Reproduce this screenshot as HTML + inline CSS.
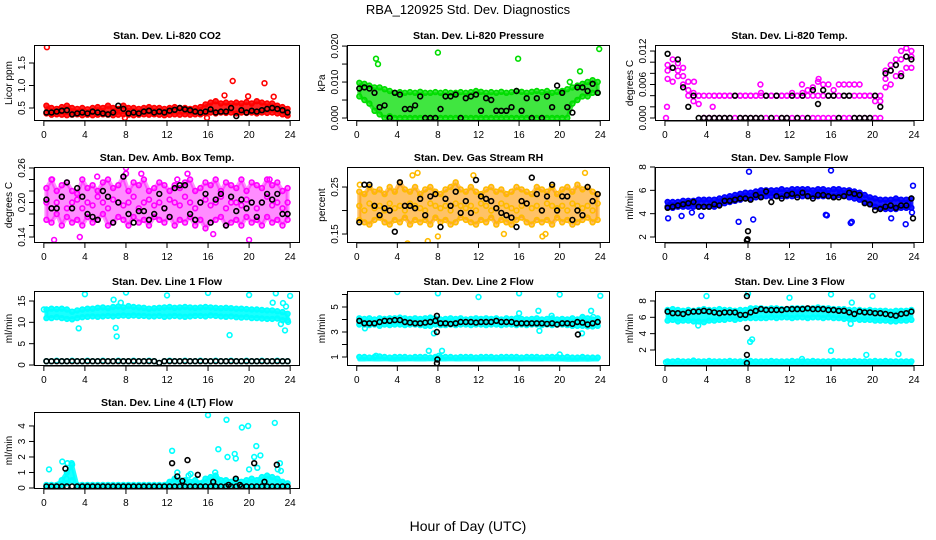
<!DOCTYPE html>
<html><head><meta charset="utf-8"><style>
html,body{margin:0;padding:0;background:#fff;}
svg{display:block;font-family:"Liberation Sans",Arial,sans-serif;}
</style></head><body>
<svg id="chart" width="936" height="540" viewBox="0 0 936 540">
<text x="468" y="14" text-anchor="middle" font-size="13">RBA_120925  Std. Dev. Diagnostics</text>
<text x="468" y="531" text-anchor="middle" font-size="14">Hour of Day (UTC)</text>
</svg>
<script>
const hours=[0.25,0.75,1.25,1.75,2.25,2.75,3.25,3.75,4.25,4.75,5.25,5.75,6.25,6.75,7.25,7.75,8.25,8.75,9.25,9.75,10.25,10.75,11.25,11.75,12.25,12.75,13.25,13.75,14.25,14.75,15.25,15.75,16.25,16.75,17.25,17.75,18.25,18.75,19.25,19.75,20.25,20.75,21.25,21.75,22.25,22.75,23.25,23.75];
const xTicks=[0,4,8,12,16,20,24];
// P1 CO2
const co2Hi=[0.55,0.5,0.48,0.52,0.55,0.5,0.48,0.5,0.47,0.5,0.52,0.5,0.55,0.5,0.48,0.55,0.5,0.5,0.48,0.5,0.52,0.5,0.5,0.48,0.5,0.52,0.5,0.5,0.48,0.5,0.52,0.58,0.62,0.65,0.6,0.62,0.6,0.62,0.6,0.63,0.6,0.65,0.62,0.6,0.6,0.55,0.52,0.48];
const co2Lo=[0.38,0.35,0.36,0.35,0.34,0.35,0.36,0.34,0.35,0.34,0.35,0.36,0.35,0.34,0.35,0.36,0.35,0.34,0.35,0.36,0.35,0.36,0.35,0.34,0.35,0.36,0.35,0.36,0.35,0.36,0.36,0.38,0.4,0.38,0.4,0.39,0.4,0.38,0.4,0.39,0.4,0.38,0.4,0.39,0.4,0.38,0.36,0.33];
const co2Blk=[0.4,0.4,0.42,0.44,0.45,0.36,0.38,0.4,0.38,0.42,0.4,0.38,0.36,0.4,0.55,0.48,0.38,0.4,0.38,0.42,0.44,0.4,0.42,0.4,0.44,0.46,0.5,0.47,0.45,0.42,0.4,0.42,0.47,0.4,0.42,0.42,0.5,0.32,0.45,0.4,0.44,0.42,0.45,0.48,0.5,0.48,0.45,0.4];
const co2OutH=[0.3,17.6,18.4,19.9,21.5,22.4,15.9,7.9];
const co2OutV=[1.85,0.78,1.1,0.76,1.05,0.75,0.28,0.28];
const co2Ticks=[0.5,1.0,1.5];
const co2Labels=["0.5","1.0","1.5"];
// P2 Pressure
const presHi=[0.0098,0.0095,0.009,0.0085,0.0085,0.008,0.0075,0.007,0.0072,0.007,0.0072,0.007,0.0073,0.007,0.007,0.0072,0.007,0.0072,0.007,0.007,0.0072,0.007,0.0072,0.0075,0.0073,0.007,0.0072,0.007,0.0073,0.007,0.0072,0.0075,0.0073,0.007,0.0073,0.0075,0.0072,0.0075,0.007,0.0073,0.0075,0.008,0.0085,0.009,0.0095,0.01,0.0105,0.01];
const presLo=[0.006,0.005,0.004,0.002,0.001,0.0,0.0005,0.0,0.0,0.0,0.0,0.0,0.0,0.0,0.0,0.0,0.0,0.0,0.0,0.0,0.0,0.0,0.0,0.0,0.0,0.0,0.0,0.0,0.0,0.0,0.0,0.0,0.0,0.0,0.0,0.0,0.0,0.0,0.0,0.0,0.0,0.0,0.004,0.005,0.006,0.006,0.007,0.007];
const presBlk=[0.0082,0.0085,0.0082,0.007,0.003,0.0035,0.0,0.007,0.0065,0.0025,0.0025,0.0035,0.006,0.0,0.0,0.0,0.0025,0.006,0.006,0.0065,0.0,0.0055,0.006,0.0065,0.002,0.0055,0.005,0.002,0.002,0.002,0.003,0.0075,0.002,0.0055,0.0,0.0055,0.0,0.006,0.003,0.009,0.007,0.003,0.0015,0.0085,0.0085,0.0075,0.0095,0.007];
const presOutH=[1.9,2.1,8,15.9,22,23.9,21];
const presOutV=[0.0165,0.015,0.0182,0.0165,0.013,0.0192,0.01];
const presTicks=[0,0.005,0.01,0.015,0.02];
const presLabels=["0.000","","0.010","","0.020"];
// P3 Temp
const tHi=[0.0095,0.0105,0.0098,0.009,0.0065,0.0045,0.004,0.004,0.004,0.004,0.004,0.004,0.004,0.004,0.004,0.004,0.004,0.004,0.0045,0.004,0.004,0.004,0.004,0.004,0.0045,0.004,0.0045,0.005,0.0055,0.0065,0.006,0.006,0.005,0.006,0.006,0.006,0.006,0.006,0.004,0.004,0.004,0.004,0.0085,0.0095,0.0105,0.012,0.0125,0.012];
const tMid=[0.0085,0.009,0.0085,0.0075,0.005,0.004,0.004,0.0,0.0,0.004,0.004,0.004,0.004,0.004,0.004,0.004,0.004,0.004,0.004,0.004,0.004,0.004,0.004,0.004,0.004,0.004,0.004,0.004,0.004,0.004,0.004,0.004,0.004,0.004,0.004,0.004,0.004,0.004,0.004,0.004,0.003,0.003,0.007,0.0085,0.0095,0.0105,0.011,0.011];
const tLo=[0.007,0.0065,0.0075,0.006,0.004,0.003,0.0025,0.0,0.0,0.0,0.0,0.0,0.0,0.0,0.0,0.0,0.0,0.0,0.0,0.0,0.0,0.0,0.0,0.0,0.0,0.0,0.0,0.0,0.0,0.0,0.0,0.0,0.0,0.0,0.0,0.0,0.0,0.0,0.0,0.0,0.0,0.0,0.0055,0.006,0.0075,0.008,0.009,0.009];
const tBlk=[0.0115,0.009,0.0105,0.0055,0.002,0.004,0.0,0.0,0.0,0.0,0.0,0.0,0.0,0.004,0.0,0.0,0.0,0.0,0.0,0.004,0.0,0.004,0.0,0.0,0.004,0.0,0.004,0.0,0.005,0.0025,0.005,0.004,0.004,0.0,0.004,0.004,0.0,0.0,0.0,0.0,0.004,0.002,0.008,0.0085,0.0095,0.0075,0.011,0.0105];
const tOutH=[0.1,0.2,4.6,9.2,2.8,14.8,13.2];
const tOutV=[0.0,0.002,0.002,0.006,0.0065,0.007,0.006];
const tTicks=[0,0.002,0.004,0.006,0.008,0.01,0.012];
const tLabels=["0.000","","","0.006","","","0.012"];
// P4 Amb box
const ambA=[0.225,0.24,0.22,0.23,0.235,0.22,0.215,0.24,0.225,0.23,0.22,0.235,0.24,0.225,0.23,0.245,0.22,0.235,0.23,0.24,0.22,0.225,0.235,0.23,0.22,0.23,0.225,0.235,0.24,0.22,0.225,0.235,0.23,0.24,0.22,0.235,0.23,0.225,0.24,0.22,0.235,0.23,0.225,0.24,0.23,0.235,0.22,0.225];
const ambB=[0.2,0.19,0.2,0.21,0.19,0.2,0.205,0.19,0.2,0.195,0.21,0.2,0.19,0.205,0.2,0.195,0.2,0.21,0.19,0.2,0.205,0.195,0.2,0.19,0.205,0.2,0.195,0.21,0.2,0.19,0.2,0.205,0.195,0.2,0.21,0.19,0.2,0.2,0.195,0.205,0.2,0.19,0.2,0.21,0.195,0.2,0.19,0.2];
const ambC=[0.17,0.165,0.18,0.16,0.175,0.165,0.17,0.16,0.175,0.165,0.17,0.18,0.16,0.165,0.175,0.17,0.16,0.175,0.165,0.17,0.16,0.175,0.17,0.165,0.175,0.16,0.17,0.165,0.175,0.16,0.17,0.155,0.165,0.17,0.175,0.16,0.165,0.17,0.16,0.175,0.165,0.17,0.16,0.175,0.165,0.17,0.16,0.17];
const ambBlk=[0.205,0.19,0.19,0.21,0.235,0.19,0.225,0.21,0.18,0.175,0.17,0.22,0.21,0.165,0.2,0.245,0.18,0.165,0.185,0.185,0.17,0.18,0.215,0.19,0.175,0.225,0.23,0.23,0.18,0.17,0.2,0.215,0.165,0.205,0.215,0.16,0.21,0.185,0.205,0.19,0.2,0.175,0.2,0.215,0.205,0.215,0.18,0.18];
const ambOutH=[1,3.5,8,8,13,14,16.5,20,22,0.8,5.2,9.5];
const ambOutV=[0.135,0.14,0.26,0.25,0.24,0.25,0.145,0.135,0.24,0.24,0.245,0.25];
const ambTicks=[0.14,0.16,0.18,0.2,0.22,0.24,0.26];
const ambLabels=["0.14","","","0.20","","","0.26"];
// P5 RH
const rhA=[0.24,0.235,0.25,0.24,0.245,0.235,0.25,0.24,0.26,0.245,0.24,0.25,0.235,0.245,0.25,0.24,0.235,0.245,0.25,0.26,0.245,0.24,0.25,0.24,0.235,0.245,0.25,0.24,0.245,0.235,0.24,0.25,0.245,0.24,0.235,0.25,0.245,0.24,0.25,0.235,0.245,0.25,0.24,0.255,0.245,0.25,0.24,0.235];
const rhB=[0.21,0.2,0.215,0.205,0.21,0.2,0.215,0.205,0.21,0.2,0.215,0.21,0.205,0.2,0.215,0.21,0.205,0.21,0.2,0.215,0.21,0.205,0.21,0.2,0.215,0.21,0.2,0.205,0.215,0.21,0.205,0.2,0.21,0.215,0.205,0.21,0.2,0.215,0.21,0.205,0.21,0.2,0.215,0.21,0.205,0.21,0.2,0.215];
const rhC=[0.18,0.175,0.17,0.18,0.185,0.175,0.17,0.18,0.175,0.185,0.17,0.18,0.175,0.18,0.17,0.185,0.175,0.18,0.17,0.175,0.185,0.18,0.175,0.17,0.18,0.175,0.185,0.17,0.18,0.175,0.17,0.18,0.185,0.175,0.17,0.18,0.175,0.18,0.17,0.185,0.175,0.18,0.17,0.175,0.18,0.185,0.175,0.18];
const rhBlk=[0.175,0.255,0.255,0.21,0.19,0.205,0.2,0.155,0.26,0.21,0.21,0.205,0.225,0.19,0.23,0.235,0.165,0.225,0.21,0.24,0.195,0.22,0.195,0.265,0.23,0.225,0.22,0.205,0.195,0.19,0.185,0.165,0.22,0.215,0.27,0.235,0.2,0.23,0.255,0.2,0.23,0.23,0.18,0.2,0.19,0.25,0.22,0.235];
const rhOutH=[5.5,6,8,7,18.3,18.6,11.5,5,14.5,0.3,22.5];
const rhOutV=[0.275,0.28,0.145,0.135,0.145,0.15,0.275,0.13,0.15,0.255,0.28];
const rhTicks=[0.15,0.2,0.25];
const rhLabels=["0.15","","0.25"];
// P6 Sample flow
const sfHi=[5.0,5.0,5.0,5.1,5.1,5.1,5.2,5.2,5.2,5.2,5.3,5.4,5.5,5.6,5.7,5.8,5.8,5.9,6.0,6.0,6.0,6.0,6.1,6.0,6.1,6.1,6.1,6.1,6.0,6.1,6.1,6.0,6.1,6.1,6.0,6.0,5.9,5.8,5.6,5.4,5.3,5.2,5.2,5.2,5.3,5.2,5.2,5.3];
const sfLo=[4.6,4.5,4.6,4.6,4.6,4.6,4.6,4.6,4.6,4.6,4.8,4.9,5.0,5.1,5.2,5.3,5.3,5.4,5.5,5.5,5.5,5.5,5.5,5.5,5.5,5.6,5.5,5.5,5.5,5.5,5.5,5.5,5.5,5.6,5.6,5.4,5.3,5.2,5.0,4.8,4.6,4.5,4.4,4.4,4.4,4.5,4.5,4.5];
const sfBlk=[4.5,4.6,4.7,4.8,4.9,5.0,4.6,4.6,4.6,4.8,4.7,5.1,5.1,5.2,5.3,5.3,5.2,5.6,5.4,5.9,5.0,5.5,5.3,5.6,5.7,5.4,5.8,5.5,5.3,5.6,5.6,5.5,5.4,5.4,5.5,5.8,5.7,5.6,4.9,4.8,4.3,4.4,4.6,4.7,4.5,4.7,4.7,5.3];
const sfOutH=[0.3,1.6,2.6,3.5,7.1,8.1,8.5,16,15.5,15.6,17.9,18,23.2,23.9,23.8,21.8];
const sfOutV=[3.6,3.8,4.1,3.8,3.3,7.6,3.5,7.7,3.9,3.85,3.2,3.3,3.1,6.4,4.1,3.6];
const sfBlkExH=[7.9,7.95,8.0,23.9];
const sfBlkExV=[1.7,1.8,2.5,3.6];
const sfTicks=[2,4,6,8];
const sfLabels=["2","4","6","8"];
// P7 Line 1
const l1Hi=[13,13.2,13.1,13.2,13,12.5,12.8,13,13.2,13.2,13.4,13.5,13.3,13.6,13.7,13.5,13.8,13.6,13.5,13.4,13.2,13.3,13.4,13.5,13.6,13.4,13.5,13.6,13.5,13.4,13.5,13.6,13.5,13.4,13.3,13.4,13.3,13.2,13.2,13.1,13,13,12.9,12.8,12.8,12.6,12.4,12.0];
const l1Lo=[11,11,11.2,11,10.8,10.7,11,11.2,11.3,11.4,11.3,11.4,11.5,11.4,11.5,11.6,11.5,11.6,11.5,11.5,11.4,11.4,11.5,11.3,11.4,11.5,11.4,11.3,11.4,11.5,11.5,11.4,11.6,11.5,11.4,11.3,11.4,11.2,11.1,11.2,11.0,11.0,10.9,10.8,10.8,10.9,10.5,10.5];
const l1Base=[0.9,0.9,1.0,0.9,0.9,1.0,0.9,0.9,1.0,0.9,0.9,1.0,0.9,0.9,1.0,0.9,0.9,1.0,0.9,0.9,1.0,0.9,0.5,0.9,1.0,0.9,0.9,1.0,0.9,0.9,1.0,0.9,0.9,1.0,0.9,0.9,1.0,0.9,0.9,1.0,0.9,0.9,1.0,0.9,0.9,1.0,0.9,0.9];
const l1Blk=[0.9,0.9,0.9,0.9,0.9,0.9,0.9,0.9,0.9,0.9,0.9,0.9,0.9,0.9,0.9,0.9,0.9,0.9,0.9,0.9,0.9,0.9,0.5,0.9,0.9,0.9,0.9,0.9,0.9,0.9,0.9,0.9,0.9,0.9,0.9,0.9,0.9,0.9,0.9,0.9,0.9,0.9,0.9,0.9,0.9,0.9,0.9,0.9];
const l1OutH=[0,3.4,4,7,7.1,6.8,7.5,8,12,16,18.1,20,22.3,22.6,23.1,23.3,23.5,23.6,23.8,24];
const l1OutV=[13,8.6,16.6,8.7,6.7,15.3,14.6,17,16.3,16.9,7,16.4,14.6,16.8,9.6,14.5,8.1,13.7,10.1,16.2];
const l1Ticks=[0,5,10,15];
const l1Labels=["0","5","10","15"];
// P8 Line 2
const l2Hi=[4.1,4.05,4.1,4.0,4.1,4.05,4.1,4.1,4.15,4.1,4.05,4.1,4.05,4.1,4.15,4.1,4.0,4.05,4.1,4.05,4.1,4.0,4.05,4.1,4.05,4.1,4.05,4.1,4.0,4.1,4.05,4.1,4.05,4.0,4.05,4.1,4.0,4.05,4.1,4.0,4.05,4.0,4.1,4.0,4.2,4.1,4.0,4.1];
const l2Lo=[3.6,3.6,3.55,3.6,3.5,3.6,3.55,3.6,3.6,3.55,3.6,3.6,3.55,3.5,3.5,3.6,3.55,3.55,3.6,3.55,3.6,3.6,3.55,3.6,3.6,3.55,3.6,3.6,3.55,3.6,3.6,3.55,3.6,3.55,3.6,3.6,3.55,3.6,3.55,3.6,3.6,3.55,3.5,3.5,3.5,3.45,3.45,3.5];
const l2BaseHi=[1.0,1.0,0.95,1.0,1.05,1.0,0.95,1.0,1.0,1.0,0.95,1.0,1.0,1.0,0.95,1.0,1.0,1.0,1.0,0.95,1.0,1.0,1.0,0.95,1.0,1.0,1.0,0.95,1.0,1.0,1.0,1.0,0.95,1.0,1.0,1.0,0.95,1.0,1.0,1.0,0.95,1.0,0.95,0.95,1.0,0.95,0.95,0.95];
const l2BaseLo=[0.8,0.8,0.82,0.8,0.8,0.82,0.8,0.78,0.8,0.8,0.82,0.8,0.8,0.8,0.82,0.8,0.8,0.8,0.82,0.8,0.8,0.82,0.8,0.8,0.8,0.82,0.8,0.8,0.8,0.82,0.8,0.8,0.8,0.82,0.8,0.8,0.8,0.82,0.8,0.8,0.8,0.78,0.78,0.78,0.8,0.78,0.8,0.8];
const l2Blk=[3.9,3.7,3.7,3.7,3.8,3.9,3.9,3.95,3.95,3.8,3.75,3.7,3.7,3.75,3.8,3.9,3.7,3.7,3.65,3.7,3.8,3.8,3.8,3.75,3.8,3.8,3.8,3.9,3.8,3.8,3.8,3.7,3.7,3.7,3.7,3.7,3.7,3.65,3.7,3.6,3.7,3.7,3.65,3.8,3.75,3.6,3.7,3.8];
const l2OutH=[4,8,12,16,20,24,16,17.9,18,19.2,23.1,23.3,22.2,7.1,7.6,8.4,8.1,0.8,1.9,20];
const l2OutV=[6.2,6.1,5.8,6.1,6.0,5.9,4.5,4.7,3.1,4.3,4.7,4.2,2.9,1.5,2.9,1.5,1.1,3.3,1.1,1.2];
const l2BlkExH=[7.9,7.9,7.95,7.9,21.8];
const l2BlkExV=[4.3,3.0,0.8,0.5,2.8];
const l2Ticks=[1,2,3,4,5,6];
const l2Labels=["1","","3","","5",""];
// P9 Line 3
const l3Hi=[6.9,7.0,6.9,6.8,6.9,6.8,6.9,7.0,6.9,6.9,7.0,6.9,6.9,6.8,6.9,6.9,7.1,7.1,7.1,7.0,7.1,7.1,7.0,7.0,7.1,7.1,7.1,7.0,7.1,7.2,7.1,7.1,7.0,7.0,7.0,6.9,6.9,6.9,6.8,6.9,6.8,6.8,6.8,6.7,6.8,6.8,6.8,6.9];
const l3Lo=[5.6,5.7,5.5,5.6,5.6,5.5,5.5,5.4,5.6,5.6,5.7,5.7,5.8,5.7,5.8,5.9,5.9,5.9,5.9,5.9,6.0,5.9,6.0,6.0,5.9,6.0,6.0,5.9,6.0,6.0,5.9,6.0,5.9,5.9,5.8,5.8,5.8,5.7,5.7,5.7,5.6,5.6,5.6,5.5,5.5,5.6,5.6,5.7];
const l3BaseHi=[0.6,0.6,0.65,0.6,0.6,0.7,0.6,0.6,0.65,0.6,0.6,0.6,0.65,0.6,0.6,0.6,0.65,0.6,0.6,0.6,0.65,0.6,0.6,0.6,0.65,0.6,0.6,0.6,0.65,0.6,0.6,0.6,0.65,0.6,0.6,0.6,0.65,0.6,0.6,0.6,0.65,0.6,0.65,0.6,0.6,0.6,0.6,0.6];
const l3BaseLo=[0.3,0.3,0.3,0.3,0.3,0.3,0.3,0.3,0.3,0.3,0.3,0.3,0.3,0.3,0.3,0.3,0.3,0.3,0.3,0.3,0.3,0.3,0.3,0.3,0.3,0.3,0.3,0.3,0.3,0.3,0.3,0.3,0.3,0.3,0.3,0.3,0.3,0.3,0.3,0.3,0.3,0.3,0.3,0.3,0.3,0.3,0.3,0.3];
const l3Blk=[6.7,6.5,6.5,6.4,6.6,6.7,6.7,6.8,6.7,6.6,6.5,6.6,6.6,6.6,6.3,6.3,6.6,6.8,7.0,6.9,6.9,6.9,6.9,7.0,7.0,7.0,7.0,7.1,7.0,7.0,7.0,6.9,6.9,6.8,6.8,6.6,6.4,6.7,6.6,6.6,6.5,6.5,6.4,6.3,6.2,6.4,6.5,6.7];
const l3OutH=[4,8,8.2,8.4,12,16,16,18,17.9,19.4,20,22.5,13.2,0.1,3.2];
const l3OutV=[8.6,8.9,3,3.3,8.4,8.8,1.9,7.8,5.2,1.4,8.6,1.5,0.9,0.5,5.0];
const l3BlkExH=[7.9,7.9,7.9,7.9];
const l3BlkExV=[4.7,1.4,0.4,8.6];
const l3Ticks=[2,4,6,8];
const l3Labels=["2","4","6","8"];
// P10 Line 4
const l4Hi=[0.2,0.2,0.2,0.5,1.0,1.5,0.2,0.2,0.2,0.2,0.2,0.2,0.2,0.2,0.2,0.2,0.2,0.2,0.2,0.2,0.2,0.2,0.2,0.2,0.4,0.6,0.5,0.5,0.4,0.5,0.3,0.6,0.7,0.8,0.5,0.5,0.4,0.5,0.4,0.5,0.6,0.5,0.7,0.8,0.7,0.6,0.4,0.3];
const l4Lo=[0.05,0.05,0.05,0.05,0.3,0.5,0.05,0.05,0.05,0.05,0.05,0.05,0.05,0.05,0.05,0.05,0.05,0.05,0.05,0.05,0.05,0.05,0.05,0.05,0.05,0.05,0.05,0.05,0.05,0.05,0.05,0.05,0.05,0.05,0.05,0.05,0.05,0.05,0.05,0.05,0.05,0.05,0.05,0.05,0.05,0.05,0.05,0.05];
const l4Blk=[0.1,0.1,0.1,0.1,0.1,0.1,0.1,0.1,0.1,0.1,0.1,0.1,0.1,0.1,0.1,0.1,0.1,0.1,0.1,0.1,0.1,0.1,0.1,0.1,0.1,0.1,0.1,0.1,0.1,0.1,0.1,0.1,0.1,0.1,0.1,0.1,0.1,0.1,0.1,0.1,0.1,0.1,0.1,0.1,0.1,0.1,0.1,0.1];
const l4OutH=[0.5,1.8,2.3,2.7,2.2,12.5,13,14.1,14.3,16,17,16.7,17.8,17.9,18.6,18.7,19.3,19.9,20,20.5,20.7,21.1,20.8,22.5,23,22.8,23.1];
const l4OutV=[1.2,1.7,1.6,1.6,0.6,2.4,1.0,0.8,0.9,4.7,2.5,1.0,4.4,2.0,2.2,1.9,3.9,4.0,1.2,2.0,2.7,2.1,1.3,4.2,1.6,1.2,1.1];
const l4BlkExH=[2.1,12.5,13,13.5,14,15,16.5,18,18.7,19.1,20.5,21.5,22.7];
const l4BlkExV=[1.25,1.6,0.75,0.45,1.8,0.85,0.4,0.2,0.6,0.2,1.6,0.4,1.5];
const l4Ticks=[0,1,2,3,4];
const l4Labels=["0","1","2","3","4"];

const NS="http://www.w3.org/2000/svg";
const svg=document.getElementById('chart');
function mk(tag,attrs,parent){const e=document.createElementNS(NS,tag);for(const k in attrs)e.setAttribute(k,attrs[k]);(parent||svg).appendChild(e);return e;}

const cols=[{l:34,r:300},{l:347,r:610},{l:655,r:924}];
const rows=[{t:45,b:121},{t:167,b:243},{t:291,b:366},{t:412,b:489}];

function drawPanel(p){
  const c=cols[p.col], rw=rows[p.row];
  const g=mk('g',{});
  
  
  const xs=h=>c.l+(h+0.96)/25.92*(c.r-c.l);
  const ys=v=>rw.b-(v-p.ymin)/(p.ymax-p.ymin)*(rw.b-rw.t);
  const title=mk('text',{x:(c.l+c.r)/2,y:rw.t-6,'text-anchor':'middle','font-size':10.5,'font-weight':'bold'},g);
  title.textContent=p.title;
  
  
  const clip='clip'+p.col+p.row;
  const cp=mk('clipPath',{id:clip},g);
  mk('rect',{x:c.l,y:rw.t,width:c.r-c.l,height:rw.b-rw.t},cp);
  const pg=mk('g',{'clip-path':'url(#'+clip+')'},g);
  (p.bands||[]).forEach(b=>{
    let d='';
    hours.forEach((h,i)=>{d+=(i?'L':'M')+xs(h).toFixed(1)+','+ys(b.hi[i]).toFixed(1);});
    for(let i=hours.length-1;i>=0;i--)d+='L'+xs(hours[i]).toFixed(1)+','+ys(b.lo[i]).toFixed(1);
    const band=mk('path',{d:d+'Z',fill:b.color,'fill-opacity':b.op,stroke:b.color,'stroke-width':4,'stroke-opacity':b.op,'stroke-linejoin':'round'},pg);
    
    
  });
  (p.series||[]).forEach(s=>{
    s.v.forEach((v,i)=>{
      const pt=mk('circle',{cx:xs(s.h[i]).toFixed(1),cy:ys(v).toFixed(1),r:2.4,fill:'none',stroke:s.color,'stroke-width':1.6},pg);
      
      
    });
  });
  mk('rect',{x:c.l+0.5,y:rw.t+0.5,width:c.r-c.l-1,height:rw.b-rw.t-1,fill:'none',stroke:'#000','stroke-width':1},g);
  // x axis
  const xa=mk('g',{},g);
  
  
  mk('line',{x1:xs(0),x2:xs(24),y1:rw.b,y2:rw.b,stroke:'#000'},xa);
  xTicks.forEach(t=>{
    mk('line',{x1:xs(t),x2:xs(t),y1:rw.b,y2:rw.b+5,stroke:'#000'},xa);
    const tl=mk('text',{x:xs(t),y:rw.b+17,'text-anchor':'middle','font-size':10},xa);
    tl.textContent=t;
    
    
  });
  // y axis
  const ya=mk('g',{},g);
  
  
  const yt=p.ticks;
  mk('line',{x1:c.l,x2:c.l,y1:ys(yt[0]),y2:ys(yt[yt.length-1]),stroke:'#000'},ya);
  yt.forEach((t,i)=>{
    mk('line',{x1:c.l-5,x2:c.l,y1:ys(t),y2:ys(t),stroke:'#000'},ya);
    if(p.labels[i]){
      const tx=c.l-9, ty=ys(t);
      const tl=mk('text',{x:tx,y:ty,'text-anchor':'middle','font-size':10,transform:'rotate(-90 '+tx+' '+ty+')'},ya);
      tl.textContent=p.labels[i];
      
      
    }
  });
  const yx=c.l-22, yy=(rw.t+rw.b)/2;
  const yl=mk('text',{x:yx,y:yy,'text-anchor':'middle','font-size':10,transform:'rotate(-90 '+yx+' '+yy+')'},g);
  yl.textContent=p.ylab;
  
  
}
const K='#000';
drawPanel({name:'panel-co2',col:0,row:0,title:'Stan. Dev. Li-820 CO2',ylab:'Licor ppm',ymin:0.211,ymax:1.9,ticks:co2Ticks,labels:co2Labels,
 bands:[{hi:co2Hi,lo:co2Lo,color:'#ff0000',op:0.85}],
 series:[{h:hours,v:co2Hi,color:'#ff0000'},{h:hours,v:co2Lo,color:'#ff0000'},{h:co2OutH,v:co2OutV,color:'#ff0000'},{h:hours,v:co2Blk,color:K,black:1}]});
drawPanel({name:'panel-pressure',col:1,row:0,title:'Stan. Dev. Li-820 Pressure',ylab:'kPa',ymin:-0.00083,ymax:0.0203,ticks:presTicks,labels:presLabels,
 bands:[{hi:presHi,lo:presLo,color:'#00dd00',op:0.75}],
 series:[{h:hours,v:presHi,color:'#00dd00'},{h:hours,v:presLo,color:'#00dd00'},{h:presOutH,v:presOutV,color:'#00dd00'},{h:hours,v:presBlk,color:K,black:1}]});
drawPanel({name:'panel-temp',col:2,row:0,title:'Stan. Dev. Li-820 Temp.',ylab:'degrees C',ymin:-0.00054,ymax:0.01308,ticks:tTicks,labels:tLabels,
 series:[{h:hours,v:tHi,color:'#ff00ff'},{h:hours,v:tMid,color:'#ff00ff'},{h:hours,v:tLo,color:'#ff00ff'},{h:tOutH,v:tOutV,color:'#ff00ff'},{h:hours,v:tBlk,color:K,black:1}]});
drawPanel({name:'panel-amb-box-temp',col:0,row:1,title:'Stan. Dev. Amb. Box Temp.',ylab:'degrees C',ymin:0.1296,ymax:0.2617,ticks:ambTicks,labels:ambLabels,
 bands:[{hi:ambA,lo:ambC,color:'#ff00ff',op:0.45}],
 series:[{h:hours,v:ambA,color:'#ff00ff'},{h:hours,v:ambB,color:'#ff00ff'},{h:hours,v:ambC,color:'#ff00ff'},{h:ambOutH,v:ambOutV,color:'#ff00ff'},{h:hours,v:ambBlk,color:K,black:1}]});
drawPanel({name:'panel-gas-rh',col:1,row:1,title:'Stan. Dev. Gas Stream RH',ylab:'percent',ymin:0.1309,ymax:0.2926,ticks:rhTicks,labels:rhLabels,
 bands:[{hi:rhA,lo:rhC,color:'#ff9900',op:0.6}],
 series:[{h:hours,v:rhA,color:'#ffbb00'},{h:hours,v:rhB,color:'#ffbb00'},{h:hours,v:rhC,color:'#ffbb00'},{h:rhOutH,v:rhOutV,color:'#ffbb00'},{h:hours,v:rhBlk,color:K,black:1}]});
drawPanel({name:'panel-sample-flow',col:2,row:1,title:'Stan. Dev. Sample Flow',ylab:'ml/min',ymin:1.486,ymax:8,ticks:sfTicks,labels:sfLabels,
 bands:[{hi:sfHi,lo:sfLo,color:'#0000ff',op:0.9}],
 series:[{h:hours,v:sfHi,color:'#0000ff'},{h:hours,v:sfLo,color:'#0000ff'},{h:sfOutH,v:sfOutV,color:'#0000ff'},{h:hours,v:sfBlk,color:K,black:1},{h:sfBlkExH,v:sfBlkExV,color:K,black:1}]});
drawPanel({name:'panel-line1-flow',col:0,row:2,title:'Stan. Dev. Line 1 Flow',ylab:'ml/min',ymin:-0.23,ymax:17.34,ticks:l1Ticks,labels:l1Labels,
 bands:[{hi:l1Hi,lo:l1Lo,color:'#00ffff',op:0.9}],
 series:[{h:hours,v:l1Hi,color:'#00ffff'},{h:hours,v:l1Lo,color:'#00ffff'},{h:hours,v:l1Base,color:'#00ffff'},{h:l1OutH,v:l1OutV,color:'#00ffff'},{h:hours,v:l1Blk,color:K,black:1}]});
drawPanel({name:'panel-line2-flow',col:1,row:2,title:'Stan. Dev. Line 2 Flow',ylab:'ml/min',ymin:0.28,ymax:6.28,ticks:l2Ticks,labels:l2Labels,
 bands:[{hi:l2Hi,lo:l2Lo,color:'#00ffff',op:0.9},{hi:l2BaseHi,lo:l2BaseLo,color:'#00ffff',op:0.9}],
 series:[{h:hours,v:l2Hi,color:'#00ffff'},{h:hours,v:l2Lo,color:'#00ffff'},{h:hours,v:l2BaseHi,color:'#00ffff'},{h:l2OutH,v:l2OutV,color:'#00ffff'},{h:hours,v:l2Blk,color:K,black:1},{h:l2BlkExH,v:l2BlkExV,color:K,black:1}]});
drawPanel({name:'panel-line3-flow',col:2,row:2,title:'Stan. Dev. Line 3 Flow',ylab:'ml/min',ymin:0.04,ymax:9.22,ticks:l3Ticks,labels:l3Labels,
 bands:[{hi:l3Hi,lo:l3Lo,color:'#00ffff',op:0.9},{hi:l3BaseHi,lo:l3BaseLo,color:'#00ffff',op:0.9}],
 series:[{h:hours,v:l3Hi,color:'#00ffff'},{h:hours,v:l3Lo,color:'#00ffff'},{h:hours,v:l3BaseHi,color:'#00ffff'},{h:l3OutH,v:l3OutV,color:'#00ffff'},{h:hours,v:l3Blk,color:K,black:1},{h:l3BlkExH,v:l3BlkExV,color:K,black:1}]});
drawPanel({name:'panel-line4-flow',col:0,row:3,title:'Stan. Dev. Line 4 (LT) Flow',ylab:'ml/min',ymin:-0.065,ymax:4.9,ticks:l4Ticks,labels:l4Labels,
 bands:[{hi:l4Hi,lo:l4Lo,color:'#00ffff',op:0.9}],
 series:[{h:hours,v:l4Hi,color:'#00ffff'},{h:hours,v:l4Lo,color:'#00ffff'},{h:l4OutH,v:l4OutV,color:'#00ffff'},{h:hours,v:l4Blk,color:K,black:1},{h:l4BlkExH,v:l4BlkExV,color:K,black:1}]});
</script>
</body></html>
